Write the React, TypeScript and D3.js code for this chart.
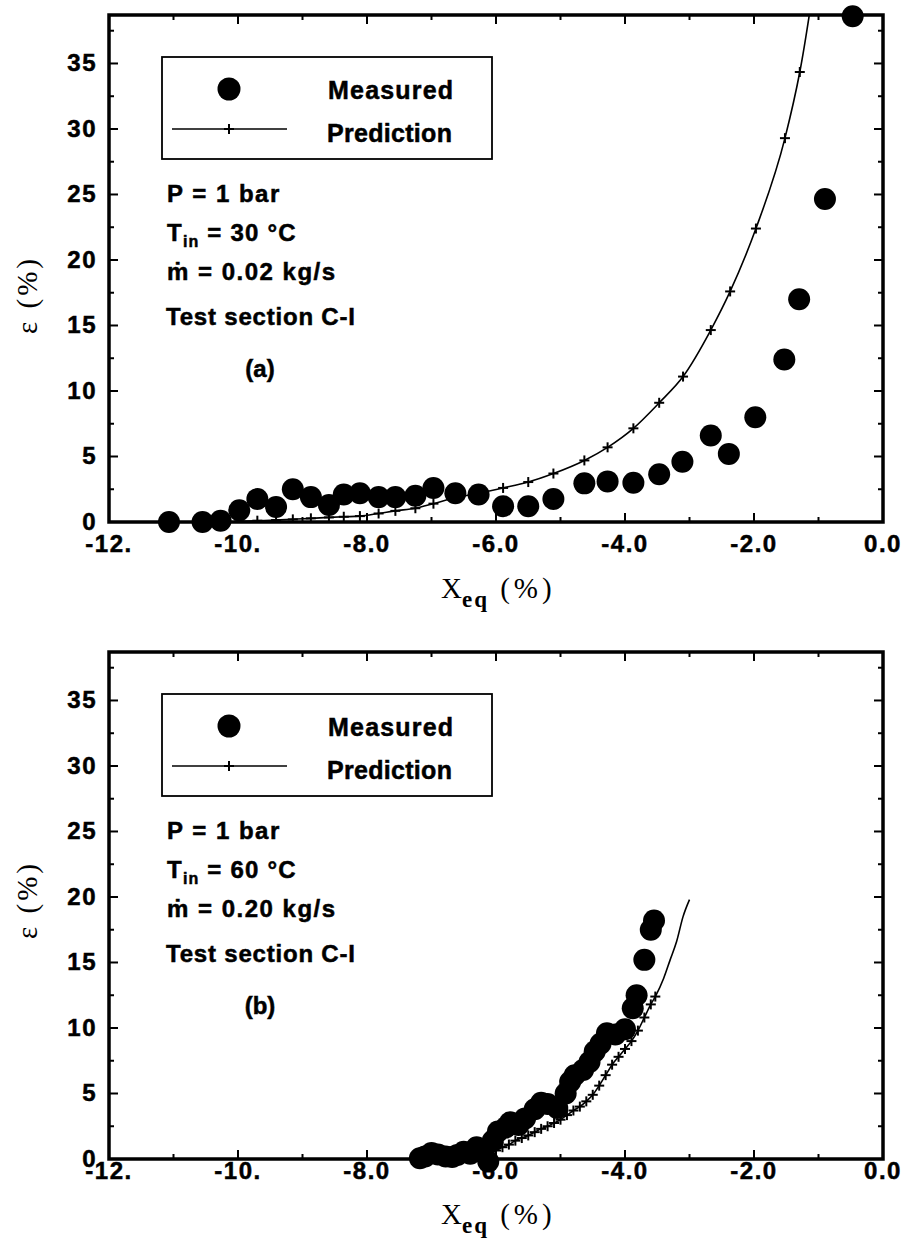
import React from "react";
import * as d3 from "d3";

// ---------- data ----------
const xTickValues = [-12, -10, -8, -6, -4, -2, 0];
const xTickLabels = ["-12.", "-10.", "-8.0", "-6.0", "-4.0", "-2.0", "0.0"];
const xMinorTicks = [-11, -9, -7, -5, -3, -1];
const yTickValues = [0, 5, 10, 15, 20, 25, 30, 35];
const yTickLabels = ["0", "5", "10", "15", "20", "25", "30", "35"];
const yMinorTicks = [2.5, 7.5, 12.5, 17.5, 22.5, 27.5, 32.5, 37.5];

// Panel (a)
const measuredAX = [-11.07, -10.55, -10.27, -9.98, -9.7, -9.41, -9.15, -8.87, -8.59, -8.36, -8.11, -7.82, -7.56, -7.25, -6.97, -6.63, -6.27, -5.89, -5.5, -5.11, -4.63, -4.27, -3.87, -3.47, -3.11, -2.67, -2.39, -1.98, -1.53, -1.3, -0.9, -0.47];
const measuredAY = [0.0, 0.0, 0.1, 0.9, 1.75, 1.15, 2.5, 1.9, 1.3, 2.1, 2.2, 1.9, 1.9, 2.0, 2.6, 2.2, 2.1, 1.2, 1.2, 1.75, 2.95, 3.1, 3.0, 3.65, 4.6, 6.6, 5.2, 8.0, 12.4, 17.0, 24.65, 38.6];
const predAX = [-9.98, -9.7, -9.41, -9.15, -8.87, -8.59, -8.36, -8.11, -7.82, -7.56, -7.25, -6.97, -6.63, -6.27, -5.89, -5.5, -5.11, -4.63, -4.27, -3.87, -3.47, -3.1, -2.67, -2.37, -1.97, -1.52, -1.29];
const predAY = [0.05, 0.1, 0.15, 0.2, 0.28, 0.35, 0.4, 0.45, 0.65, 0.85, 1.05, 1.4, 1.85, 2.2, 2.6, 3.05, 3.7, 4.7, 5.7, 7.15, 9.1, 11.1, 14.65, 17.6, 22.4, 29.3, 34.35];
const predALineX = [-0.9];
const predALineY = [47];

// Panel (b)
const measuredBX = [-7.18, -7.1, -7.0, -6.9, -6.78, -6.68, -6.6, -6.5, -6.4, -6.3, -6.2, -6.12, -6.05, -5.97, -5.85, -5.78, -5.65, -5.55, -5.4, -5.3, -5.2, -5.05, -4.92, -4.85, -4.78, -4.65, -4.55, -4.47, -4.38, -4.28, -4.15, -4.0, -3.88, -3.82, -3.7, -3.6, -3.55];
const measuredBY = [0.05, 0.2, 0.45, 0.35, 0.2, 0.15, 0.3, 0.55, 0.4, 0.9, 0.5, -0.2, 1.4, 2.1, 2.4, 2.8, 2.6, 3.1, 3.8, 4.3, 4.2, 3.9, 5.0, 5.9, 6.4, 6.8, 7.4, 8.2, 8.8, 9.6, 9.5, 9.9, 11.5, 12.5, 15.2, 17.5, 18.2];
const predBX = [-6.1, -6.0, -5.9, -5.8, -5.7, -5.6, -5.5, -5.4, -5.3, -5.2, -5.1, -5.0, -4.9, -4.8, -4.7, -4.6, -4.5, -4.4, -4.3, -4.2, -4.1, -4.0, -3.9, -3.8, -3.7, -3.6, -3.53];
const predBY = [0.3, 0.65, 0.9, 1.1, 1.4, 1.6, 1.8, 2.05, 2.3, 2.5, 2.75, 3.0, 3.35, 3.7, 4.0, 4.4, 4.9, 5.6, 6.4, 7.2, 7.8, 8.4, 9.0, 9.8, 10.8, 11.8, 12.4];
const predBLineX = [-3.4, -3.3, -3.2, -3.1, -3.0];
const predBLineY = [13.8, 15.2, 16.6, 18.5, 19.8];

const legendLabels = ["Measured", "Prediction"];
const panelAText = { p: "P = 1 bar", t: "30", m: "0.02", tag: "(a)" };
const panelBText = { p: "P = 1 bar", t: "60", m: "0.20", tag: "(b)" };

// ---------- layout ----------
const W = 906;
const H = 1247;
const LEFT = 109;
const RIGHT = 883;
const SANS = "'Liberation Sans', Arial, Helvetica, sans-serif";
const SERIF = "'Liberation Serif', 'Times New Roman', serif";

type PanelProps = {
  top: number;
  bottom: number;
  id: string;
  mx: number[];
  my: number[];
  px: number[];
  py: number[];
  lx: number[];
  ly: number[];
  text: { p: string; t: string; m: string; tag: string };
  yTitleCenter: number;
  xLabelOffset: number;
  xTitleOffset: number;
};

function Plus({ x, y }: { x: number; y: number }) {
  return (
    <g stroke="#000" strokeWidth={2}>
      <line x1={x - 5} x2={x + 5} y1={y} y2={y} />
      <line x1={x} x2={x} y1={y - 5} y2={y + 5} />
    </g>
  );
}

const boldText = { fontFamily: SANS, fontWeight: "bold" as const, stroke: "#000", strokeWidth: 0.5 };

function Panel(props: PanelProps) {
  const { top, bottom, id, mx, my, px, py, lx, ly, text, yTitleCenter, xLabelOffset, xTitleOffset } = props;
  const x = d3.scaleLinear().domain([-12, 0]).range([LEFT, RIGHT]);
  const y = d3.scaleLinear().domain([0, 38.7]).range([bottom, top]);

  const predPts: [number, number][] = px.map((v, i) => [v, py[i]]);
  const linePts: [number, number][] = predPts.concat(lx.map((v, i) => [v, ly[i]] as [number, number]));
  const line = d3
    .line<[number, number]>()
    .x((d) => x(d[0]))
    .y((d) => y(d[1]))
    .curve(d3.curveMonotoneX);

  const bx = 162;
  const lgTop = top + 42;

  return (
    <g>
      <defs>
        <clipPath id={id}>
          <rect x={LEFT} y={top} width={RIGHT - LEFT} height={bottom - top} />
        </clipPath>
      </defs>

      {/* frame */}
      <rect x={LEFT} y={top} width={RIGHT - LEFT} height={bottom - top} fill="none" stroke="#000" strokeWidth={3.5} />

      {/* ticks */}
      {xTickValues.map((v) => (
        <g key={"xt" + v} stroke="#000" strokeWidth={2}>
          <line x1={x(v)} x2={x(v)} y1={bottom} y2={bottom - 9} />
          <line x1={x(v)} x2={x(v)} y1={top} y2={top + 9} />
        </g>
      ))}
      {xMinorTicks.map((v) => (
        <g key={"xm" + v} stroke="#000" strokeWidth={2}>
          <line x1={x(v)} x2={x(v)} y1={bottom} y2={bottom - 5} />
          <line x1={x(v)} x2={x(v)} y1={top} y2={top + 5} />
        </g>
      ))}
      {yTickValues.map((v) => (
        <g key={"yt" + v} stroke="#000" strokeWidth={2}>
          <line x1={LEFT} x2={LEFT + 9} y1={y(v)} y2={y(v)} />
          <line x1={RIGHT} x2={RIGHT - 9} y1={y(v)} y2={y(v)} />
        </g>
      ))}
      {yMinorTicks.map((v) => (
        <g key={"ym" + v} stroke="#000" strokeWidth={2}>
          <line x1={LEFT} x2={LEFT + 5} y1={y(v)} y2={y(v)} />
          <line x1={RIGHT} x2={RIGHT - 5} y1={y(v)} y2={y(v)} />
        </g>
      ))}

      {/* tick labels */}
      {xTickValues.map((v, i) => (
        <text key={"xl" + v} x={x(v)} y={bottom + xLabelOffset} textAnchor="middle" {...boldText} fontSize={24} letterSpacing={1.5}>
          {xTickLabels[i]}
        </text>
      ))}
      {yTickValues.map((v, i) => (
        <text key={"yl" + v} x={97} y={y(v) + 8} textAnchor="end" {...boldText} fontSize={24} letterSpacing={1.5}>
          {yTickLabels[i]}
        </text>
      ))}

      {/* axis titles */}
      <text transform={`translate(37,${yTitleCenter}) rotate(-90)`} textAnchor="middle" fontFamily={SERIF} fontSize={29} letterSpacing={3}>
        ε (%)
      </text>
      <text x={441} y={bottom + xTitleOffset} fontFamily={SERIF} fontSize={29}>
        X<tspan dy={9} fontSize={23} fontWeight="bold" letterSpacing={2}>eq</tspan>
        <tspan dy={-9} letterSpacing={4}> (%)</tspan>
      </text>

      {/* legend */}
      <rect x={bx} y={lgTop} width={330} height={102} fill="#fff" stroke="#000" strokeWidth={1.8} />
      <circle cx={229} cy={top + 74} r={11.5} fill="#000" />
      <line x1={172} x2={287} y1={top + 114} y2={top + 114} stroke="#000" strokeWidth={1.5} />
      <Plus x={229} y={top + 114} />
      <text x={328} y={top + 84} {...boldText} fontSize={25} letterSpacing={1.2}>{legendLabels[0]}</text>
      <text x={327} y={top + 127} {...boldText} fontSize={25} letterSpacing={0.3}>{legendLabels[1]}</text>

      {/* annotations */}
      <g {...boldText} fontSize={24}>
        <text x={167} y={top + 187} letterSpacing={1.5}>{text.p}</text>
        <text x={167} y={top + 226} letterSpacing={1.2}>
          T<tspan dy={6} fontSize={16}>in</tspan>
          <tspan dy={-6}>{` = ${text.t} °C`}</tspan>
        </text>
        <text x={167} y={top + 265} letterSpacing={1.5}>{`ṁ = ${text.m} kg/s`}</text>
        <text x={166} y={top + 310} letterSpacing={0.8}>Test section C-I</text>
        <text x={260} y={top + 362} textAnchor="middle">{text.tag}</text>
      </g>

      {/* measured */}
      {mx.map((v, i) => (
        <circle key={"m" + i} cx={x(v)} cy={y(my[i])} r={11} fill="#000" />
      ))}

      {/* prediction */}
      <g clipPath={`url(#${id})`}>
        <path d={line(linePts) || ""} fill="none" stroke="#000" strokeWidth={1.6} />
        {predPts.map((d, i) => (
          <Plus key={"p" + i} x={x(d[0])} y={y(d[1])} />
        ))}
      </g>
    </g>
  );
}

export default function App() {
  return (
    <svg width={W} height={H} viewBox={`0 0 ${W} ${H}`} style={{ position: "absolute", left: 0, top: 0, background: "#fff" }}>
      <rect width={W} height={H} fill="#fff" />
      <Panel top={15} bottom={522} id="clipA" mx={measuredAX} my={measuredAY} px={predAX} py={predAY} lx={predALineX} ly={predALineY} text={panelAText} yTitleCenter={295} xLabelOffset={30} xTitleOffset={76} />
      <Panel top={652} bottom={1159} id="clipB" mx={measuredBX} my={measuredBY} px={predBX} py={predBY} lx={predBLineX} ly={predBLineY} text={panelBText} yTitleCenter={900} xLabelOffset={20} xTitleOffset={65} />
    </svg>
  );
}
